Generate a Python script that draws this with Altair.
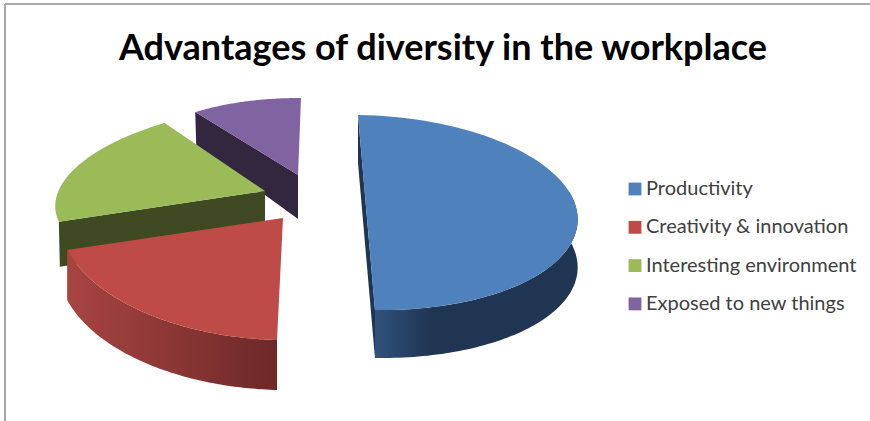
import numpy as np
import pandas as pd
import altair as alt

# Shares of each answer, clockwise from twelve o'clock
factors = ["Productivity", "Creativity & innovation", "Interesting environment", "Exposed to new things"]
shares = [50, 20, 20, 10]
top_colors = ["#4f81bd", "#be4b48", "#9bbb59", "#8064a2"]

W, H = 870, 421

# Projected frame of each exploded slice: apex, rim axes, extrusion depth
frames = {
    "Productivity": dict(apex=(366.5, 212.5), ex=(211, 3), ey=(-8.5, -97.5), depth=48, rim_depth=48),
    "Creativity & innovation": dict(apex=(283, 218), ex=(225, 6), ey=(6, -122), depth=50, rim_depth=50),
    "Interesting environment": dict(apex=(265, 191), ex=(208, -4), ey=(27, -87), depth=45, rim_depth=45),
    "Exposed to new things": dict(apex=(298, 175), ex=(179, 1), ey=(3, -77), depth=44, rim_depth=33),
}

ends = np.cumsum(shares) / sum(shares) * 2 * np.pi
starts = np.concatenate([[0], ends[:-1]])


def rim(frame, a0, a1, n=80):
    t = np.linspace(a0, a1, n)
    ax, ay = frame["apex"]
    return (ax + np.sin(t) * frame["ex"][0] + np.cos(t) * frame["ey"][0],
            ay + np.sin(t) * frame["ex"][1] + np.cos(t) * frame["ey"][1])


def table(xs, ys, factor):
    return pd.DataFrame({"x": xs, "y": ys, "i": np.arange(len(xs)), "factor": factor})


def top_face(k):
    f = frames[factors[k]]
    x, y = rim(f, starts[k], ends[k])
    return table(np.r_[f["apex"][0], x, f["apex"][0]], np.r_[f["apex"][1], y, f["apex"][1]], factors[k])


def outer_wall(k, a0, a1):
    f = frames[factors[k]]
    x, y = rim(f, a0, a1)
    d = f["rim_depth"]
    return table(np.r_[x, x[::-1]], np.r_[y, (y + d)[::-1]], factors[k])


def cut_face(k, angle):
    f = frames[factors[k]]
    x, y = rim(f, angle, angle, 1)
    ax, ay = f["apex"]
    return table([ax, ax, x[0] + 1, x[0]], [ay, ay + f["depth"], y[0] + f["rim_depth"], y[0]], factors[k])


def diameter_face(k):
    # Straight cut of the half-pie slice, running across its full width
    f = frames[factors[k]]
    x0, y0 = rim(f, starts[k], starts[k], 1)
    x1, y1 = rim(f, ends[k], ends[k], 1)
    d = f["depth"]
    return table([x0[0], x0[0], x1[0], x1[0]], [y0[0], y0[0] + d, y1[0] + d, y1[0]], factors[k])


x_enc = alt.X("x:Q", scale=alt.Scale(domain=[0, W], nice=False, zero=False), axis=None)
y_enc = alt.Y("y:Q", scale=alt.Scale(domain=[H, 0], nice=False, zero=False), axis=None)


def solid(df, fill):
    return alt.Chart(df).mark_line(filled=True, fill=fill, strokeWidth=0).encode(
        x=x_enc, y=y_enc, order="i:Q")


def shaded(df, stops):
    gradient = alt.Gradient(
        gradient="linear", x1=0, x2=1, y1=0, y2=0,
        stops=[alt.GradientStop(offset=o, color=c) for o, c in stops])
    return alt.Chart(df).mark_line(filled=True, fill=gradient, strokeWidth=0).encode(
        x=x_enc, y=y_enc, order="i:Q")


# Side faces go first so the lit tops sit over them
walls = [
    solid(cut_face(3, starts[3]), "#33263f"),
    solid(cut_face(2, starts[2]), "#3f4a22"),
    shaded(outer_wall(1, starts[1], ends[1]), [(0, "#a84441"), (0.5, "#8b3735"), (1, "#6c2828")]),
    solid(diameter_face(0), "#1f3552"),
    shaded(outer_wall(0, np.pi * 0.42, ends[0]), [(0, "#31527c"), (0.28, "#1f3552"), (1, "#1f3552")]),
]

tops = (
    alt.Chart(pd.concat([top_face(k) for k in range(4)]))
    .mark_line(filled=True, strokeWidth=0)
    .encode(
        x=x_enc,
        y=y_enc,
        order="i:Q",
        fill=alt.Fill(
            "factor:N",
            sort=factors,
            scale=alt.Scale(domain=factors, range=top_colors),
            legend=alt.Legend(
                title=None, orient="none", legendX=625, legendY=179,
                symbolType="square", symbolSize=165, symbolStrokeWidth=0,
                labelFont="Lato", labelFontSize=20, labelColor="#404040",
                labelOffset=1, rowPadding=18.3, labelLimit=260,
            ),
        ),
    )
)

# Thin frame along the top and left edges
frame_left = alt.Chart(pd.DataFrame({"k": [0]})).mark_rule(color="#a9a9a9", strokeWidth=2).encode(
    x=alt.value(5), y=alt.value(4), y2=alt.value(H))
frame_top = alt.Chart(pd.DataFrame({"k": [0]})).mark_rule(color="#a9a9a9", strokeWidth=2).encode(
    x=alt.value(5), x2=alt.value(W), y=alt.value(4))

chart = alt.layer(frame_left, frame_top, *walls, tops).properties(
    width=W, height=H, padding=0,
    autosize=alt.AutoSizeParams(type="none"),
    title=alt.TitleParams(
        "Advantages of diversity in the workplace",
        font="Lato", fontSize=36, fontWeight="bold", color="#000000",
        anchor="middle", dx=8, offset=-68,
    ),
).configure_view(stroke=None)

chart.save("out.html", embed_options={"renderer": "svg", "actions": False})
